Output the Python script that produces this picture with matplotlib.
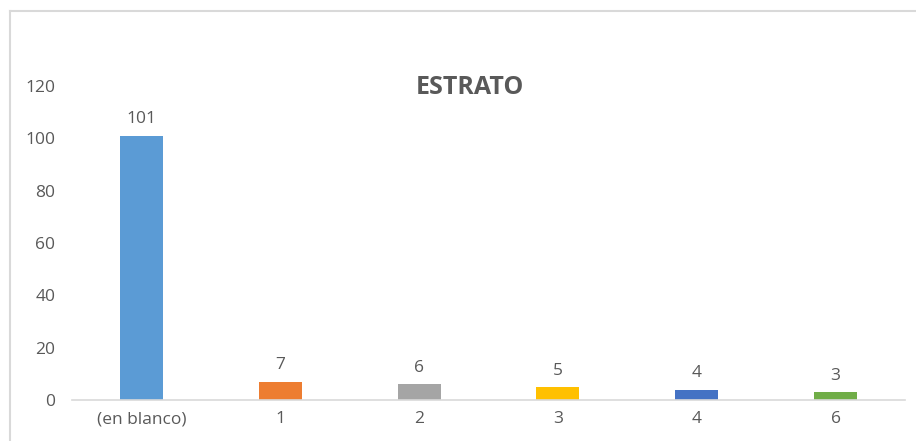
import matplotlib
matplotlib.use("Agg")
import matplotlib.pyplot as plt
from matplotlib.lines import Line2D

categories = ["(en blanco)", "1", "2", "3", "4", "6"]
values = [101, 7, 6, 5, 4, 3]
colors = ["#5B9BD5", "#ED7D31", "#A5A5A5", "#FFC000", "#4472C4", "#70AD47"]
yticks = [0, 20, 40, 60, 80, 100, 120]

W, H = 916, 441
plt.rcParams['font.family'] = ['Open Sans', 'DejaVu Sans']
fig = plt.figure(figsize=(W/100, H/100), dpi=100)
txt = "#595959"

ax = fig.add_axes([72/W, (H-400)/H, (905-72)/W, (400-86)/H])
x = list(range(len(categories)))
bars = ax.bar(x, values, width=0.31, color=colors)
ax.set_xlim(-0.5, len(categories)-0.5)
ax.set_ylim(0, 120)
ax.set_yticks(yticks)
ax.set_xticks(x)
ax.set_xticklabels(categories)
for s in ["top", "right", "left"]:
    ax.spines[s].set_visible(False)
ax.spines["bottom"].set_color("#D9D9D9")
ax.spines["bottom"].set_linewidth(1.2)
ax.tick_params(axis="both", length=0, labelsize=12.5, colors=txt)
ax.tick_params(axis="y", pad=12)
ax.tick_params(axis="x", pad=8)
for b, v in zip(bars, values):
    ax.annotate(str(v), (b.get_x()+b.get_width()/2, v), xytext=(0, 6),
                textcoords="offset points", ha="center", va="bottom",
                fontsize=12.5, color=txt)

fig.text(470/W, 1-87/H, "ESTRATO", ha="center", va="center",
         fontsize=18, fontweight="bold", color=txt)

fig.add_artist(Line2D([9.5/W, 9.5/W], [0, 1-11/H], color="#D9D9D9", lw=1.5, transform=fig.transFigure))
fig.add_artist(Line2D([9.5/W, 1], [1-11/H, 1-11/H], color="#D9D9D9", lw=1.5, transform=fig.transFigure))

fig.savefig("out.png", dpi=100)
